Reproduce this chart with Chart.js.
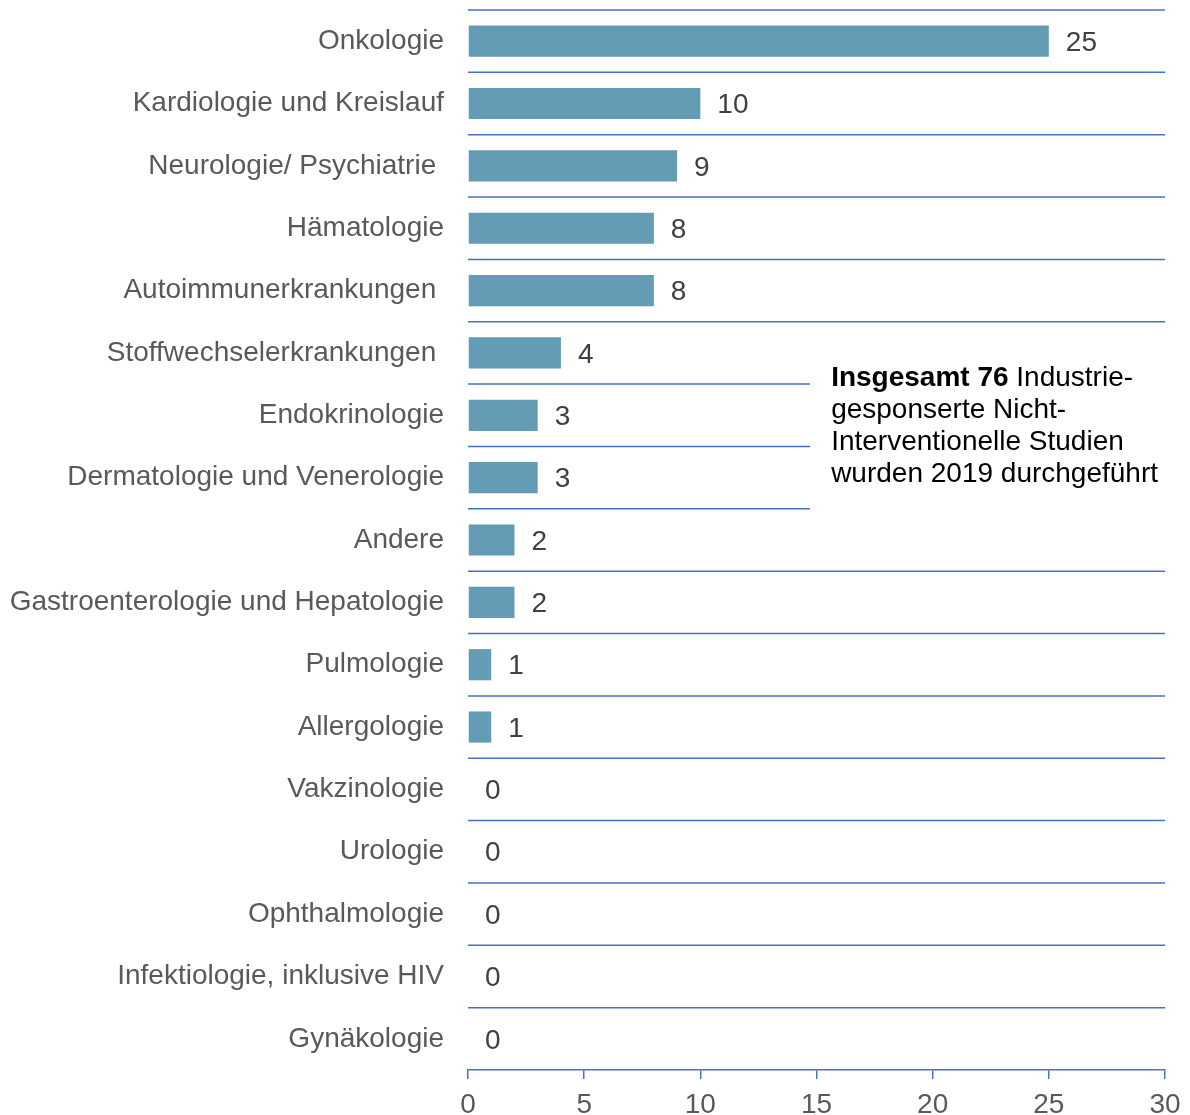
<!DOCTYPE html>
<html>
<head>
<meta charset="utf-8">
<script src="https://cdn.jsdelivr.net/npm/chart.js@4"></script>
<style>
html,body{margin:0;padding:0;background:#fff;}
#wrap{width:1190px;height:1115px;position:relative;}
</style>
</head>
<body>
<div id="wrap"><canvas id="c" width="1190" height="1115"></canvas></div>
<script>
const categories = [
  "Onkologie",
  "Kardiologie und Kreislauf",
  "Neurologie/ Psychiatrie ",
  "Hämatologie",
  "Autoimmunerkrankungen ",
  "Stoffwechselerkrankungen ",
  "Endokrinologie",
  "Dermatologie und Venerologie",
  "Andere",
  "Gastroenterologie und Hepatologie",
  "Pulmologie",
  "Allergologie",
  "Vakzinologie",
  "Urologie",
  "Ophthalmologie",
  "Infektiologie, inklusive HIV",
  "Gynäkologie"
];
const studies = [25, 10, 9, 8, 8, 4, 3, 3, 2, 2, 1, 1, 0, 0, 0, 0, 0];
const xTicks = [0, 5, 10, 15, 20, 25, 30];
const shortLineBoundaries = [6, 7, 8];   // boundaries above these categories are shortened
const shortLineEnd = 14.72;              // in x-axis units
const noteX = 15.63;                     // in x-axis units
const noteBold = "Insgesamt 76";
const noteLines = [" Industrie-", "gesponserte Nicht-", "Interventionelle Studien", "wurden 2019 durchgeführt"];

const FONT = "'Liberation Sans', Arial, sans-serif";
const LINE = "#4472C4";

const decorPlugin = {
  id: 'decor',
  afterDatasetsDraw(chart) {
    const ctx = chart.ctx;
    const x = chart.scales.x, y = chart.scales.y;
    const n = categories.length;
    const half = (y.getPixelForValue(1) - y.getPixelForValue(0)) / 2;
    ctx.save();
    // horizontal separator lines
    ctx.strokeStyle = LINE;
    ctx.lineWidth = 1.5;
    for (let k = 0; k < n; k++) {
      const py = y.getPixelForValue(k) - half;
      const endX = shortLineBoundaries.includes(k) ? x.getPixelForValue(shortLineEnd) : x.right;
      ctx.beginPath();
      ctx.moveTo(x.left, py);
      ctx.lineTo(endX, py);
      ctx.stroke();
    }
    // value labels
    ctx.font = "28px " + FONT;
    ctx.fillStyle = "#404040";
    ctx.textAlign = "left";
    ctx.textBaseline = "middle";
    const meta = chart.getDatasetMeta(0);
    meta.data.forEach((bar, i) => {
      ctx.fillText(String(studies[i]), bar.x + 17, bar.y + 2);
    });
    // note
    const nx = x.getPixelForValue(noteX);
    const ny = y.getPixelForValue(5) + half - 6;
    ctx.fillStyle = "#000";
    ctx.textBaseline = "middle";
    ctx.font = "bold 28px " + FONT;
    ctx.fillText(noteBold, nx, ny);
    const bw = ctx.measureText(noteBold).width;
    ctx.font = "28px " + FONT;
    ctx.fillText(noteLines[0], nx + bw, ny);
    for (let i = 1; i < noteLines.length; i++) {
      ctx.fillText(noteLines[i], nx, ny + 32 * i);
    }
    ctx.restore();
  }
};

new Chart(document.getElementById('c'), {
  type: 'bar',
  data: {
    labels: categories,
    datasets: [{
      data: studies,
      backgroundColor: "#659CB5",
      borderWidth: 0,
      barPercentage: 0.5,
      categoryPercentage: 1.0
    }]
  },
  options: {
    indexAxis: 'y',
    responsive: false,
    animation: false,
    devicePixelRatio: 1,
    layout: { padding: { top: 10, right: 25, left: 0, bottom: 0 } },
    plugins: { legend: { display: false }, tooltip: { enabled: false } },
    scales: {
      x: {
        type: 'linear',
        min: 0, max: 30,
        afterBuildTicks(scale) { scale.ticks = xTicks.map(v => ({ value: v })); },
        afterFit(scale) { scale.height = 45; scale.paddingLeft = 0; scale.paddingRight = 0; },
        grid: { drawOnChartArea: false, drawTicks: true, tickLength: 9, color: LINE, lineWidth: 1.5 },
        border: { display: true, color: LINE, width: 1.5 },
        ticks: { font: { size: 28, family: FONT }, color: "#595959", padding: 9 }
      },
      y: {
        type: 'category',
        offset: true,
        afterFit(scale) { scale.width = 468; scale.paddingTop = 0; scale.paddingBottom = 0; },
        grid: { display: false, drawTicks: false },
        border: { display: false },
        ticks: { font: { size: 28, family: FONT }, color: "#595959", padding: 24, autoSkip: false }
      }
    }
  },
  plugins: [decorPlugin]
});
</script>
</body>
</html>
